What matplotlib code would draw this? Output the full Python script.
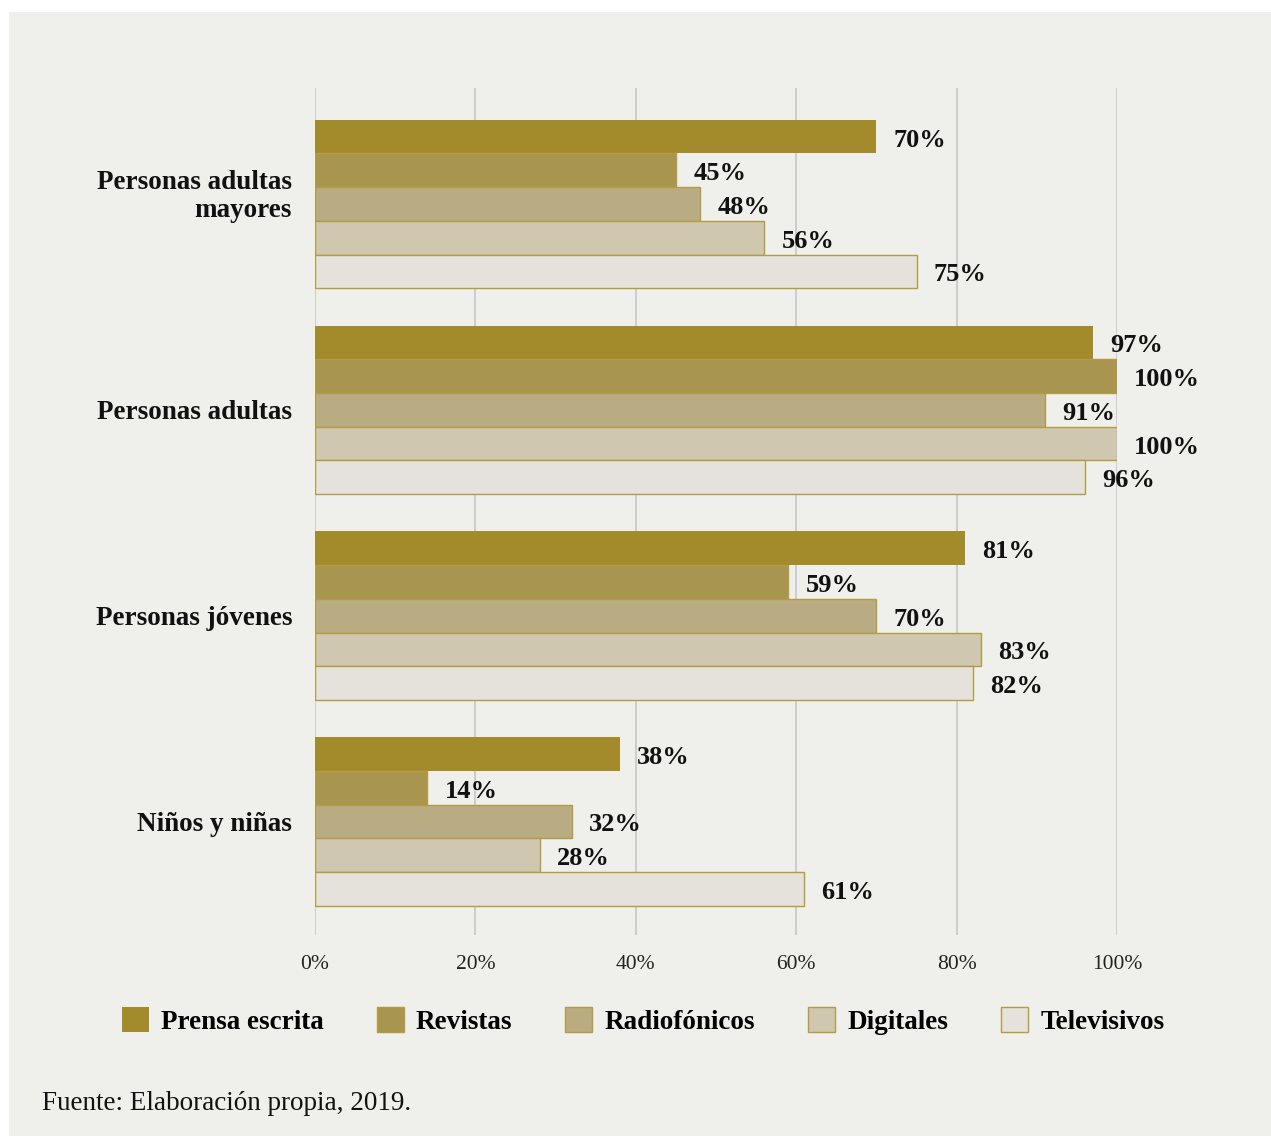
import matplotlib
matplotlib.use('Agg')
import numpy as np
import matplotlib.pyplot as plt
from matplotlib.patches import Patch, Rectangle

plt.rcParams['font.family'] = ['Liberation Serif', 'DejaVu Serif']

groups = ['Personas adultas\nmayores', 'Personas adultas', 'Personas jóvenes', 'Niños y niñas']
series = ['Prensa escrita', 'Revistas', 'Radiofónicos', 'Digitales', 'Televisivos']
prensa = [70, 97, 81, 38]
revistas = [45, 100, 59, 14]
radio = [48, 91, 70, 32]
digitales = [56, 100, 83, 28]
tele = [75, 96, 82, 61]
values = [prensa, revistas, radio, digitales, tele]
colors = ['#a38b2c', '#a8954f', '#b9ab82', '#cfc7af', '#e4e2db']
edge = '#b49c45'
bg = '#efefeb'

fig = plt.figure(figsize=(12.71, 11.36), dpi=100, facecolor='white')
fig.patches.append(Rectangle((9 / 1271, 0), 1, 1 - 12 / 1136, transform=fig.transFigure,
                             facecolor=bg, edgecolor='none', zorder=-10))

ax = fig.add_axes([315 / 1271, 1 - 935 / 1136, 802 / 1271, (935 - 88) / 1136])
ax.patch.set_alpha(0)

h = 0.1637
y = np.arange(len(groups))
for j, (vals, c) in enumerate(zip(values, colors)):
    pos = y + (j - 2) * h
    lw = 0 if j == 0 else 1.0
    ax.barh(pos, vals, height=h, color=c, edgecolor=edge, linewidth=lw, zorder=3)
    for p, v in zip(pos, vals):
        ax.annotate(f'{v}%', (v, p), xytext=(12.5, -2.5), textcoords='offset points',
                    ha='left', va='center', fontsize=19, fontweight='bold',
                    color='#111111', annotation_clip=False)

# group names drawn left of the axis; two-line names sit a little higher
for g, name in zip(y, groups):
    dy = 5.5 if '\n' in name else -2
    ax.annotate(name, (0, g), xytext=(-16.5, dy), textcoords='offset points',
                ha='right', va='center', fontsize=19.5, fontweight='bold',
                color='#111111', linespacing=1.13, annotation_clip=False)

ax.set_xlim(0, 100)
ax.set_ylim(3.5514, -0.5636)
ax.set_xticks(range(0, 101, 20))
ax.set_xticklabels([f'{t}%' for t in range(0, 101, 20)], fontsize=15.5, color='#222222')
ax.set_yticks([])
ax.tick_params(axis='x', length=0, pad=14.5)
ax.grid(axis='x', color='#cacaca', linewidth=1.3, zorder=0)
ax.set_axisbelow(True)
for s in ax.spines.values():
    s.set_visible(False)

handles = [Patch(facecolor=c, edgecolor=edge, linewidth=0 if i == 0 else 1.0, label=s)
           for i, (c, s) in enumerate(zip(colors, series))]
fig.legend(handles=handles, loc='center', bbox_to_anchor=(0.506, 1 - 1021 / 1136), ncol=5,
           frameon=False, prop={'size': 19.5, 'weight': 'bold'},
           handlelength=1.0, handleheight=1.0, handletextpad=0.45, columnspacing=1.95)

fig.text(42 / 1271, 1 - 1104 / 1136, 'Fuente: Elaboración propia, 2019.', fontsize=19.5,
         color='#111111', va='center', ha='left')

fig.savefig('out.png', dpi=100, facecolor='white')
